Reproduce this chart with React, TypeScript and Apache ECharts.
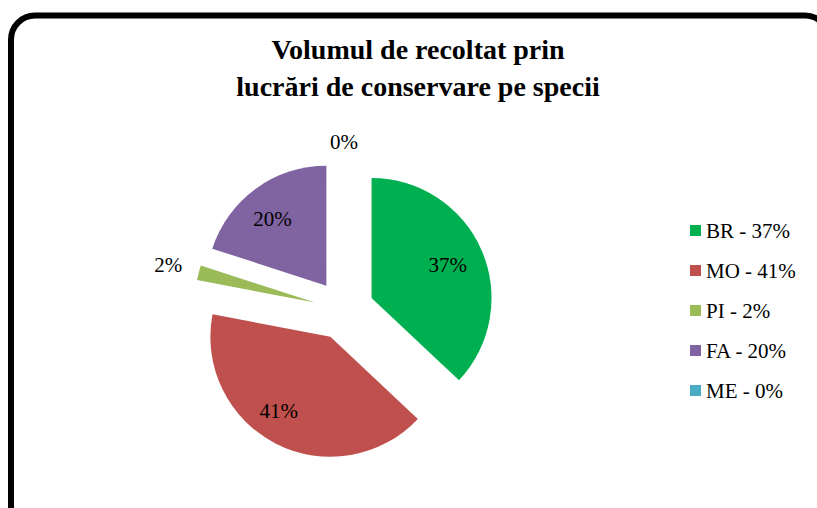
import React, { useEffect, useRef } from "react";
import * as echarts from "echarts";

const categories = ["BR", "MO", "PI", "FA", "ME"];
const values = [37, 41, 2, 20, 0];
const colors = ["#00B050", "#C0504D", "#9BBB59", "#8064A2", "#4BACC6"];
const titleText = "Volumul de recoltat prin\nlucrări de conservare pe specii";

const FONT = "Liberation Serif, serif";

export default function App() {
  const ref = useRef<HTMLDivElement>(null);

  useEffect(() => {
    if (!ref.current) return;
    const chart = echarts.init(ref.current, undefined, { renderer: "svg" });
    const total = values.reduce((a, b) => a + b, 0);

    const base: any = {
      type: "pie",
      center: [344, 310],
      startAngle: 90,
      clockwise: true,
      selectedMode: "multiple",
      selectedOffset: 30,
      silent: true,
      avoidLabelOverlap: false,
      labelLine: { show: false },
      emphasis: { disabled: true },
    };

    // label padding nudges a label off the slice bisector, like Excel's best fit
    const labelSeries = (radius: number, shown: string[], pads: Record<string, number[]>) => ({
      ...base,
      radius,
      z: 3,
      label: {
        position: "inside",
        fontFamily: FONT,
        fontSize: 21,
        color: "#000",
        formatter: (p: any) => Math.round(p.percent) + "%",
      },
      data: categories.map((n, i) => ({
        name: n,
        value: values[i],
        selected: true,
        itemStyle: { color: "rgba(0,0,0,0)" },
        label: {
          show: shown.includes(n),
          position: "inside",
          fontFamily: FONT,
          fontSize: 21,
          color: "#000",
          padding: pads[n] || 0,
        },
      })),
    });

    chart.setOption({
      animation: false,
      backgroundColor: "#fff",
      textStyle: { fontFamily: FONT },
      title: {
        text: titleText,
        left: 418,
        top: 31,
        padding: 0,
        textAlign: "center",
        textStyle: {
          fontFamily: FONT,
          fontSize: 28,
          fontWeight: "bold",
          color: "#000",
          lineHeight: 37,
        },
      },
      legend: {
        orient: "vertical",
        left: 690,
        top: 220,
        padding: 0,
        itemWidth: 11,
        itemHeight: 11,
        itemGap: 19,
        icon: "rect",
        selectedMode: false,
        data: categories,
        formatter: (name: string) => {
          const i = categories.indexOf(name);
          return `${name} - ${Math.round((values[i] / total) * 100)}%`;
        },
        textStyle: {
          fontFamily: FONT,
          fontSize: 21,
          lineHeight: 21,
          color: "#000",
        },
      },
      graphic: [
        {
          type: "rect",
          silent: true,
          z: -1,
          shape: { x: 11, y: 15.5, width: 818, height: 520, r: 24 },
          style: { fill: "none", stroke: "#000", lineWidth: 6 },
        },
      ],
      series: [
        {
          ...base,
          radius: 120,
          label: { show: false },
          data: categories.map((n, i) => ({
            name: n,
            value: values[i],
            selected: true,
            itemStyle: { color: colors[i] },
          })),
        },
        labelSeries(160, ["BR", "MO", "FA"], { MO: [0, 28, 12, 0], FA: [14, 10, 0, 0] }),
        labelSeries(297, ["PI"], {}),
        labelSeries(270, ["ME"], {}),
      ],
    });

    return () => chart.dispose();
  }, []);

  return (
    <div
      ref={ref}
      style={{ position: "fixed", left: 0, top: 0, width: 817, height: 508 }}
    />
  );
}
